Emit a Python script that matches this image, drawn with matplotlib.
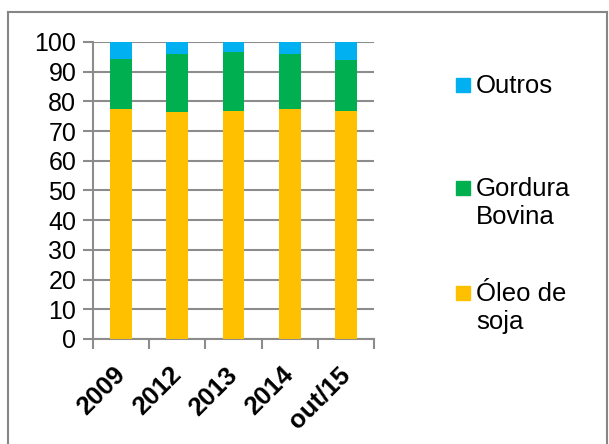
import matplotlib.pyplot as plt
import numpy as np
from matplotlib.patches import Rectangle
from matplotlib.lines import Line2D

plt.rcParams['font.family'] = ['Liberation Sans', 'DejaVu Sans']

categories = ['2009', '2012', '2013', '2014', 'out/15']
oleo_soja = [77.4, 76.3, 76.8, 77.4, 76.7]
gordura_bovina = [16.8, 19.8, 20.0, 18.5, 17.2]
outros = [5.8, 3.9, 3.2, 4.1, 6.1]

series_names = ['Outros', 'Gordura\nBovina', 'Óleo de\nsoja']
colors = {'soja': '#FFC000', 'gordura': '#00B050', 'outros': '#00B0F0'}

W, H = 609, 444
fig = plt.figure(figsize=(W / 100, H / 100), dpi=100)
ax = fig.add_axes([93 / W, 1 - 339 / H, (374 - 93) / W, (339 - 42) / H])

x = np.arange(len(categories))
soja = np.array(oleo_soja)
gord = np.array(gordura_bovina)
outr = np.array(outros)
bw = 0.39
ax.bar(x, soja, bw, color=colors['soja'], zorder=3)
ax.bar(x, gord, bw, bottom=soja, color=colors['gordura'], zorder=3)
ax.bar(x, outr, bw, bottom=soja + gord, color=colors['outros'], zorder=3)

ax.set_xlim(-0.5, len(categories) - 0.5)
ax.set_ylim(0, 100)
ax.set_yticks(range(0, 101, 10))
ax.yaxis.grid(True, color='#8c8c8c', lw=1.5, zorder=0)
for s in ['top', 'right']:
    ax.spines[s].set_visible(False)
for s in ['left', 'bottom']:
    ax.spines[s].set_color('#8c8c8c')
    ax.spines[s].set_linewidth(1.5)
ax.tick_params(axis='y', length=7, width=1.5, color='#8c8c8c', labelsize=18, pad=5)

# x ticks at category boundaries, labels under bars
ax.set_xticks(np.arange(-0.5, len(categories), 1.0))
ax.set_xticklabels([])
ax.tick_params(axis='x', length=7, width=1.5, color='#8c8c8c')
for xi, lab in zip(x, categories):
    ax.annotate(lab, xy=(xi, 0), xycoords=('data', 'axes fraction'),
                xytext=(-6, -17), textcoords='offset points',
                rotation=45, ha='right', va='top', rotation_mode='anchor',
                fontsize=18.5, fontweight='bold')

# legend
legend_items = [(series_names[0], colors['outros'], 85),
                (series_names[1], colors['gordura'], 188),
                (series_names[2], colors['soja'], 293)]
for name, col, yc in legend_items:
    fig.patches.append(Rectangle((456 / W, 1 - (yc + 7) / H), 14 / W, 14 / H,
                                 transform=fig.transFigure, color=col))
    fig.text(476 / W, 1 - (yc - 11) / H, name, fontsize=18.5, va='top', ha='left',
             linespacing=1.2)

# chart border
bc = '#868686'
fig.add_artist(Line2D([8 / W, 8 / W], [0, 1 - 12 / H], color=bc, lw=1.5))
fig.add_artist(Line2D([8 / W, 607 / W], [1 - 12 / H, 1 - 12 / H], color=bc, lw=1.5))
fig.add_artist(Line2D([607 / W, 607 / W], [0, 1 - 12 / H], color=bc, lw=1.5))

fig.savefig('out.png', dpi=100)
